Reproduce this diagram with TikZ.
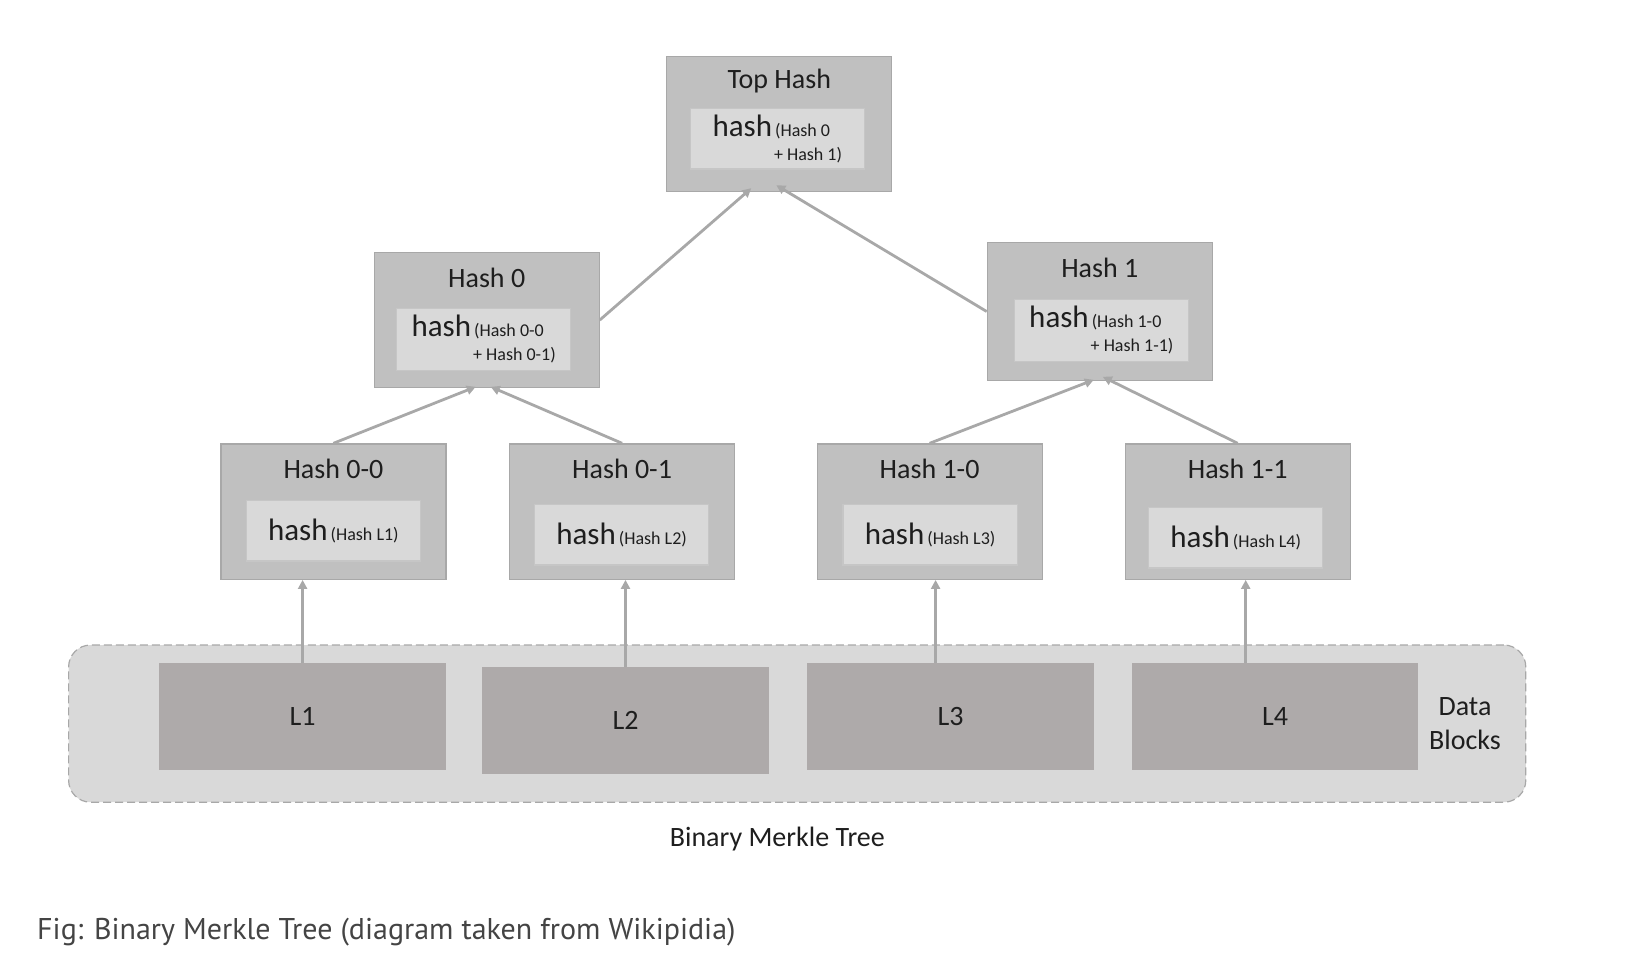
\documentclass[tikz,border=0pt]{standalone}
\usepackage{fontspec}
\setmainfont{Carlito}
\newfontfamily\figcaptionfont{PT Sans}
\usetikzlibrary{arrows.meta}
\definecolor{boxgray}{RGB}{192,192,192}
\definecolor{boxline}{RGB}{168,168,168}
\definecolor{innergray}{RGB}{217,217,217}
\definecolor{innerline}{RGB}{198,198,198}
\definecolor{leafgray}{RGB}{174,170,170}
\definecolor{linkgray}{RGB}{168,168,168}
\definecolor{textgray}{RGB}{30,30,30}
\definecolor{captiongray}{RGB}{68,68,68}
\newcommand{\bighash}{{\fontsize{15.5}{17}\selectfont hash}}

\begin{document}
\begin{tikzpicture}[x=0.5pt,y=0.5pt,yscale=-1,xscale=1,
  hashbox/.style={draw=boxline,fill=boxgray,line width=0.6pt,minimum width=112.5pt,minimum height=67.7pt,inner sep=0pt},
  innerbox/.style={draw=innerline,fill=innergray,line width=0.6pt,minimum width=87.1pt,minimum height=30.4pt,inner sep=0pt,align=right,text=textgray,font=\fontsize{9}{12}\selectfont},
  title/.style={inner sep=0.75pt,text=textgray,font=\fontsize{14}{17}\selectfont},
  datablock/.style={fill=leafgray,minimum width=143.3pt,minimum height=53.7pt,inner sep=0pt,text=textgray,font=\fontsize{14}{17}\selectfont},
  link/.style={draw=linkgray,line width=1.4pt,-{Triangle[length=4.5pt,width=4.5pt]}}
]
\useasboundingbox (0,0) rectangle (1649,966);

%Shape: Rounded Rect (data blocks)
\node[draw=boxline,fill=innergray,line width=0.6pt,dash pattern=on 4pt off 2pt,rounded corners=11pt,minimum width=728.6pt,minimum height=78.6pt] (data) at (797.2,723.6) {};
%Shape: Rectangle
\node[datablock] (L1) at (302.6,716.6) {\raisebox{-1.5pt}{L1}};
\node[datablock] (L2) at (625.5,720.6) {\raisebox{-1.5pt}{L2}};
\node[datablock] (L3) at (950.5,716.6) {\raisebox{-1.5pt}{L3}};
\node[datablock] (L4) at (1275,716.6) {\raisebox{-1.5pt}{L4}};
% Text Node
\node[title,align=center] (datalbl) at (1465,723.5) {Data\\Blocks};

%Shape: Rectangle (top)
\node[hashbox] (top) at (779.3,123.9) {};
\node[title] (toptitle) at (779.3,81) {Top Hash};
\node[innerbox] (topin) at (777.3,138.5) {\bighash\,(Hash 0\makebox[6pt]{}\\+ Hash 1)};

%Shape: Rectangle (middle)
\node[hashbox,minimum height=67.2pt] (h0) at (486.7,320) {};
\node[title] (h0title) at (486.7,278) {Hash 0};
\node[innerbox,minimum height=30.9pt] (h0in) at (483.7,339.4) {\bighash\,(Hash 0-0\makebox[6pt]{}\\+ Hash 0-1)};
\node[hashbox,minimum height=68.7pt] (h1) at (1099.8,311.5) {};
\node[title] (h1title) at (1099.8,268) {Hash 1};
\node[innerbox,minimum height=30.9pt] (h1in) at (1101.3,330.4) {\bighash\,(Hash 1-0\makebox[6pt]{}\\+ Hash 1-1)};

%Shape: Rectangle (leaves)
\node[hashbox] (h00) at (333.4,511.6) {};
\node[title] (h00title) at (333.4,469) {Hash 0-0};
\node[innerbox] (h00in) at (333.4,530.5) {\bighash\,(Hash L1)};
\node[hashbox] (h01) at (622.1,511.6) {};
\node[title] (h01title) at (622.1,469) {Hash 0-1};
\node[innerbox] (h01in) at (621.6,534.5) {\bighash\,(Hash L2)};
\node[hashbox] (h10) at (929.6,511.6) {};
\node[title] (h10title) at (929.6,469) {Hash 1-0};
\node[innerbox] (h10in) at (930.1,534.5) {\bighash\,(Hash L3)};
\node[hashbox] (h11) at (1237.7,511.6) {};
\node[title] (h11title) at (1237.7,469) {Hash 1-1};
\node[innerbox] (h11in) at (1235.7,537.5) {\bighash\,(Hash L4)};

%Straight Lines
\draw[link] (h0.east) -- ([xshift=-14pt,yshift=-2pt]top.south);
\draw[link] (h1.west) -- ([xshift=-1.5pt,yshift=-3.5pt]top.south);
\draw[link] (h00.north) -- ([xshift=-5.5pt,yshift=-0.5pt]h0.south);
\draw[link] (h01.north) -- ([xshift=2pt,yshift=-0.5pt]h0.south);
\draw[link] (h10.north) -- ([xshift=-3pt,yshift=-0.5pt]h1.south);
\draw[link] (h11.north) -- ([xshift=1.5pt,yshift=-2pt]h1.south);
\draw[link] (L1.north) -- (L1.north |- h00.south);
\draw[link] (L2.north) -- (L2.north |- h01.south);
\draw[link] ([xshift=3pt]h10.south |- L3.north) -- ([xshift=3pt]h10.south);
\draw[link] ([xshift=4pt]h11.south |- L4.north) -- ([xshift=4pt]h11.south);

% Text Node
\node[title] (treelbl) at (777.3,839.5) {Binary Merkle Tree};
\node[anchor=west,inner sep=0pt,text=captiongray,font=\figcaptionfont\fontsize{15}{18}\selectfont] (caption) at (36.8,932) {Fig: Binary Merkle Tree (diagram taken from Wikipidia)};

\end{tikzpicture}
\end{document}
